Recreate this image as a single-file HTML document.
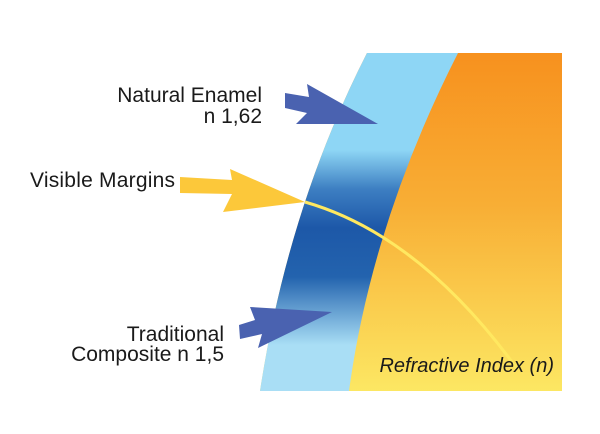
<!DOCTYPE html>
<html><head><meta charset="utf-8"><style>
html,body{margin:0;padding:0;background:#fff;}
svg{display:block}
text{font-family:"Liberation Sans",sans-serif;fill:#1a1a1a}
</style></head><body>
<svg width="600" height="434" viewBox="0 0 600 434" xmlns="http://www.w3.org/2000/svg">
<defs>
<linearGradient id="org" x1="0" y1="53" x2="0" y2="391" gradientUnits="userSpaceOnUse">
<stop offset="0" stop-color="#f7911e"/>
<stop offset="0.45" stop-color="#f8ae35"/>
<stop offset="1" stop-color="#fce763"/>
</linearGradient>
<linearGradient id="blu" x1="0" y1="150" x2="0" y2="345" gradientUnits="userSpaceOnUse">
<stop offset="0" stop-color="#8ed6f5"/>
<stop offset="0.2" stop-color="#3d7fc2"/>
<stop offset="0.4" stop-color="#1d58a8"/>
<stop offset="0.65" stop-color="#2363ae"/>
<stop offset="1" stop-color="#a9def5"/>
</linearGradient>
</defs>
<path d="M367,53 L562,53 L562,391 L260,391 Q288,208 367,53 Z" fill="url(#org)"/>
<path d="M367,53 L458,53 Q372,222 349,391 L260,391 Q288,208 367,53 Z" fill="url(#blu)"/>
<path d="M305,202 Q420,235 518,370" fill="none" stroke="#ffe860" stroke-width="3"/>
<polygon points="285,93 309,97 307,84 378,124 296,124 307,113 285,108" fill="#4a62b0"/>
<polygon points="180,177 232,180 230,169 305,202 223,212 232,194 180,193" fill="#fcc83a"/>
<polygon points="239,325 255,320 250,307 332,312 258,348 262,334 240,339" fill="#4a62b0"/>
<text x="262" y="102" font-size="21" text-anchor="end">Natural Enamel</text>
<text x="262" y="123" font-size="21" text-anchor="end">n 1,62</text>
<text x="30" y="187" font-size="21" textLength="145">Visible Margins</text>
<text x="224" y="341" font-size="21" text-anchor="end">Traditional</text>
<text x="224" y="361" font-size="21" text-anchor="end">Composite n 1,5</text>
<text x="554" y="372" font-size="20" font-style="italic" text-anchor="end">Refractive Index (n)</text>
</svg>
</body></html>
